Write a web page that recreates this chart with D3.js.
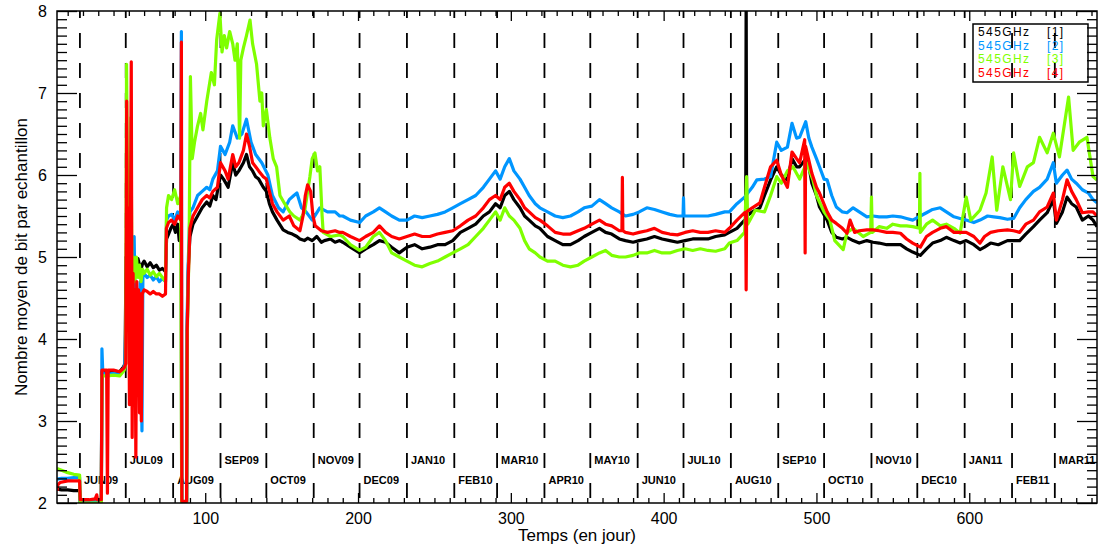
<!DOCTYPE html>
<html><head><meta charset="utf-8">
<script src="https://cdn.jsdelivr.net/npm/d3@7"></script>
<style>body{margin:0;background:#fff}svg{display:block}</style>
</head><body>
<svg id="c" width="1099" height="548"></svg>
<script>
// ---- data: [day, value] ----
const series1 = [[3,2.17],[6,2.16],[10,2.16],[14,2.15],[17.8,2.15],[18.2,2.01],[25,2.01],[32,2.01],[32.4,3.6],[36,3.6],[40,3.61],[44,3.6],[46.5,3.66],[47.5,3.7],[48.2,5.0],[49,4.6],[50,5.15],[51,4.85],[52,5.0],[53,4.9],[54,4.95],[55,4.88],[56,4.98],[57,4.9],[58,4.85],[59,4.92],[60,4.95],[62,4.88],[64,4.93],[66,4.87],[68,4.9],[70,4.84],[72,4.86],[74,4.82],[74.7,5.22],[76,5.28],[77.5,5.35],[79,5.4],[80.5,5.3],[82,5.4],[83,5.2],[84.3,5.35],[84.6,2.0],[87.8,2.0],[88.2,4.1],[89,4.9],[90,5.25],[92,5.4],[95,5.5],[98,5.6],[101,5.67],[103,5.62],[105,5.75],[107,5.7],[110,6.0],[112,5.95],[115,5.85],[118,6.15],[120,6.0],[122,6.05],[125,6.15],[127,6.25],[129,6.1],[131,6.05],[133,5.98],[135,5.95],[138,5.85],[140,5.8],[142,5.65],[144,5.55],[147,5.45],[151,5.33],[154,5.3],[157,5.28],[160,5.25],[162,5.22],[165,5.2],[167,5.23],[170,5.2],[173,5.25],[176,5.18],[178,5.2],[182,5.22],[185,5.18],[188,5.2],
[190,5.18],[195,5.12],[201,5.05],[205,5.1],[210,5.15],[214,5.2],[218,5.18],[222,5.12],[227,5.05],[232,5.12],[237,5.15],[242,5.1],[247,5.12],[252,5.15],[257,5.15],[262,5.2],[267,5.3],[272,5.35],[277,5.4],[282,5.5],[286,5.55],[290,5.65],[293,5.6],[296,5.75],[299,5.8],[302,5.7],[306,5.6],[309,5.5],[312,5.45],[316,5.38],[319,5.35],[324,5.25],[329,5.2],[334,5.15],[339,5.15],[344,5.2],[348,5.25],[353,5.3],[358,5.35],[362,5.3],[366,5.28],[371,5.22],[375,5.2],[380,5.18],[384,5.2],[389,5.22],[394,5.25],[399,5.22],[404,5.2],[409,5.18],[414,5.2],[419,5.22],[424,5.22],[429,5.22],[434,5.25],[440,5.27],[443,5.3],[448,5.35],[453,5.45],[453.7,5.45],[454,8.3],[454.3,5.5],[458,5.55],[463,5.6],[466,5.75],[470,5.94],[474,6.1],[477,6.0],[481,5.94],[484,6.2],[487,6.1],[489,6.1],[494,6.22],[497,5.9],[500,5.75],[502,5.61],[507,5.45],[510,5.3],[513,5.24],[517,5.22],[520,5.24],[524,5.2],[528,5.17],[533,5.2],[537,5.18],[541,5.17],[546,5.15],[550,5.15],[555,5.15],[559,5.1],[563,5.06],[568,5.02],[572,5.1],[576,5.17],[581,5.2],[585,5.24],[590,5.2],[594,5.17],[598,5.2],[603,5.15],[607,5.09],[610,5.12],[614,5.17],[619,5.15],[625,5.2],[629,5.2],[633,5.2],[637,5.28],[642,5.37],[646,5.45],[651,5.54],[655,5.7],[657,5.41],[661,5.55],[664,5.73],[667,5.65],[670,5.61],[674,5.45],[678,5.5],[681,5.45],[683.6,5.37]];

const series2 = [[3,2.29],[6,2.3],[10,2.3],[14,2.31],[17.8,2.31],[18.2,2.01],[25,2.01],[32,2.01],[32.4,3.88],[33,3.58],[36,3.57],[40,3.58],[44,3.57],[46.5,3.64],[47.5,3.7],[48.5,4.6],[49.5,5.0],[50.5,4.5],[51.5,4.9],[52.5,4.3],[53.5,5.25],[54.5,3.8],[55.5,4.6],[56.5,4.2],[57.5,4.7],[58.6,2.88],[59.2,4.75],[60,4.8],[62,4.75],[64,4.78],[66,4.72],[68,4.76],[70,4.7],[72,4.74],[74,4.7],[74.7,5.45],[76,5.5],[78,5.52],[80,5.45],[82,5.55],[84,5.5],[84.4,7.75],[84.7,2.0],[87.8,2.0],[88.2,4.3],[89,5.0],[90,5.55],[92,5.6],[95,5.75],[98,5.8],[101,5.85],[103,5.82],[105,5.95],[108,6.05],[110,6.35],[113,6.25],[116,6.4],[118,6.6],[121,6.45],[124,6.5],[127,6.68],[130,6.4],[133,6.25],[137,6.15],[141,6.0],[144,5.75],[148,5.6],[151,5.55],[155,5.7],[158,5.75],[160,5.78],[163,5.6],[166,5.55],[170,5.45],[175,5.6],[180,5.55],[185,5.55],[188,5.5],
[190,5.5],[195,5.45],[201,5.42],[205,5.5],[210,5.55],[214,5.6],[218,5.55],[222,5.5],[227,5.45],[232,5.45],[237,5.5],[242,5.48],[247,5.5],[252,5.52],[257,5.55],[262,5.6],[267,5.65],[272,5.7],[277,5.75],[282,5.85],[286,5.95],[290,6.05],[293,5.95],[296,6.1],[299,6.2],[302,6.05],[306,5.95],[309,5.85],[312,5.75],[316,5.65],[319,5.6],[324,5.55],[329,5.5],[334,5.48],[339,5.5],[344,5.55],[348,5.6],[353,5.62],[358,5.7],[362,5.65],[366,5.6],[371,5.55],[375,5.5],[380,5.52],[384,5.55],[389,5.6],[394,5.58],[399,5.55],[404,5.52],[409,5.5],[412.7,5.5],[413,5.72],[413.3,5.5],[419,5.5],[424,5.5],[429,5.5],[434,5.52],[440,5.55],[443,5.55],[448,5.65],[453,5.73],[458,5.85],[461,5.94],[466,5.95],[470,5.98],[474,6.4],[477,6.3],[481,6.34],[484,6.63],[487,6.45],[489,6.46],[493,6.65],[495,6.45],[497,6.34],[500,6.2],[502,6.1],[505,5.95],[507,5.94],[510,5.75],[513,5.61],[517,5.55],[520,5.54],[524,5.6],[528,5.55],[533,5.49],[537,5.5],[541,5.49],[546,5.49],[550,5.5],[555,5.49],[559,5.47],[563,5.45],[568,5.5],[572,5.54],[576,5.58],[581,5.6],[585,5.55],[590,5.49],[594,5.47],[598,5.45],[603,5.42],[607,5.45],[612,5.5],[616,5.49],[620,5.48],[625,5.46],[629,5.47],[633,5.6],[637,5.7],[642,5.8],[646,5.85],[651,5.95],[655,6.15],[657,5.9],[661,6.0],[664,6.06],[667,5.95],[670,5.9],[674,5.82],[678,5.78],[681,5.7],[683.6,5.66]];

const series3 = [[3,2.42],[6,2.4],[10,2.37],[14,2.35],[17.8,2.34],[18.2,2.0],[32,2.0],[32.4,3.55],[36,3.55],[40,3.56],[44,3.55],[47,3.62],[48,3.7],[48.5,7.35],[49,6.2],[49.6,4.8],[50.2,5.3],[50.8,4.6],[51.4,6.7],[52,4.8],[53,5.0],[54,4.7],[55,5.0],[56,4.75],[57,4.9],[58,4.7],[59,4.85],[60,4.8],[62,4.85],[64,4.78],[66,4.82],[68,4.76],[70,4.8],[72,4.75],[74,4.7],[74.7,5.6],[76,5.75],[78,5.7],[80,5.82],[82,5.65],[84,5.75],[84.6,2.0],[87.8,2.0],[88.2,4.0],[89.5,5.2],[90.3,7.2],[91.5,6.2],[93,6.4],[95,6.6],[97,6.75],[98.5,6.55],[101,6.9],[104,7.25],[106,7.1],[107.5,7.65],[109.6,7.97],[111,7.5],[112.5,7.7],[114,7.55],[116,7.75],[118,7.6],[119.5,7.4],[121,7.6],[122.5,6.45],[123.3,7.4],[125,7.55],[127,7.7],[129.3,7.89],[131,7.6],[133.6,7.35],[135.8,6.9],[137,7.0],[138,6.6],[140,6.8],[142.3,6.45],[144.5,6.2],[146.7,6.1],[148.9,5.75],[152,5.65],[155.4,5.55],[158,5.5],[162,5.45],[165,5.55],[168.5,5.98],[170,6.2],[171.8,6.27],[173.5,6.05],[175,6.1],[176.5,5.5],[177.2,5.3],[182,5.25],[188,5.27],
[190,5.25],[195,5.15],[201,5.08],[205,5.12],[210,5.25],[214,5.3],[218,5.2],[222,5.05],[227,5.0],[232,4.95],[237,4.9],[242,4.88],[247,4.92],[252,4.95],[257,5.0],[262,5.05],[267,5.1],[272,5.15],[277,5.25],[282,5.35],[286,5.45],[290,5.55],[293,5.45],[296,5.6],[299,5.5],[302,5.45],[306,5.35],[309,5.2],[312,5.1],[316,5.05],[319,5.0],[324,4.95],[329,4.95],[334,4.9],[339,4.88],[344,4.9],[348,4.95],[353,5.0],[358,5.05],[362,5.08],[366,5.02],[371,5.0],[375,5.0],[380,5.02],[384,5.05],[389,5.05],[394,5.08],[399,5.05],[404,5.05],[409,5.08],[414,5.1],[419,5.08],[424,5.1],[429,5.08],[434,5.07],[440,5.1],[443,5.17],[448,5.2],[453,5.3],[454.3,5.98],[455,5.4],[460,5.57],[466,5.55],[470,5.75],[474,5.98],[477,5.9],[481,6.05],[484.6,6.1],[489,5.95],[493.6,6.15],[497.7,5.94],[500,5.75],[505,5.55],[508.8,5.45],[512,5.2],[517.5,5.09],[520,5.3],[524,5.35],[530.6,5.25],[535.5,5.3],[536,5.73],[536.5,5.3],[541,5.37],[546,5.35],[550,5.4],[555,5.38],[559,5.38],[563,5.37],[567.4,5.35],[567.7,6.02],[568,5.3],[572,5.4],[576,5.45],[581,5.38],[585,5.4],[590,5.35],[594,5.29],[598,5.73],[601,5.45],[607,5.57],[611,5.78],[615,6.22],[618,5.57],[622,6.1],[627,5.7],[629,6.27],[633,5.86],[638,6.1],[642,6.15],[646,6.46],[651,6.27],[655,6.51],[659,6.22],[665,6.95],[668,6.3],[672,6.4],[677,6.46],[681,5.98],[683.6,5.94]];

const series4 = [[3,2.15],[3.5,2.22],[5,2.25],[10,2.27],[14,2.27],[17.8,2.27],[18.2,2.04],[24,2.04],[28,2.05],[29,2.1],[29.5,2.04],[32,2.04],[32.4,3.62],[35.5,3.62],[36,2.12],[36.5,3.62],[40,3.62],[44,3.6],[47,3.65],[48,3.7],[48.6,6.9],[49.2,4.5],[49.8,5.6],[50.4,3.2],[51,5.0],[51.6,7.38],[52.2,2.8],[52.8,4.8],[53.4,3.3],[54,4.6],[54.6,2.56],[55.2,4.7],[55.8,3.5],[56.4,4.6],[57,3.1],[57.6,4.55],[58.2,3.0],[58.8,4.55],[60,4.6],[62,4.58],[64,4.55],[66,4.58],[68,4.55],[70,4.55],[72,4.52],[74,4.55],[74.6,5.35],[76,5.42],[78,5.45],[80,5.4],[82,5.5],[84,5.45],[84.4,7.62],[84.7,2.02],[87.8,2.02],[88.2,4.1],[89,4.8],[90,5.35],[92,5.5],[95,5.6],[98,5.7],[101,5.75],[103,5.72],[105,5.8],[108,5.85],[110,6.15],[113,6.05],[115,5.95],[118,6.25],[120,6.1],[122,6.15],[125,6.3],[127,6.5],[129,6.35],[131,6.15],[133,6.1],[135,6.05],[138,5.98],[140,5.95],[142,5.8],[144,5.65],[147,5.55],[151,5.45],[155,5.5],[158,5.38],[162,5.32],[164,5.5],[165.5,5.75],[167,5.88],[169,5.8],[170.5,5.5],[172,5.38],[176,5.32],[180,5.3],[185,5.32],[188,5.3],
[190,5.3],[195,5.25],[201,5.2],[205,5.25],[210,5.3],[214,5.38],[218,5.3],[222,5.25],[227,5.22],[232,5.25],[237,5.28],[242,5.25],[247,5.25],[252,5.28],[257,5.3],[262,5.32],[267,5.38],[272,5.45],[277,5.5],[282,5.6],[286,5.7],[290,5.75],[293,5.7],[296,5.85],[299,5.9],[302,5.8],[306,5.7],[309,5.6],[312,5.55],[316,5.48],[319,5.45],[324,5.38],[329,5.3],[334,5.28],[339,5.28],[344,5.32],[348,5.35],[353,5.4],[358,5.45],[362,5.4],[366,5.38],[371,5.32],[372.7,5.32],[373,5.97],[373.3,5.32],[375,5.3],[380,5.28],[384,5.3],[389,5.32],[394,5.35],[399,5.3],[404,5.28],[409,5.27],[414,5.3],[419,5.32],[424,5.3],[429,5.3],[434,5.32],[440,5.3],[443,5.35],[448,5.45],[453,5.54],[453.7,5.54],[454,4.6],[454.3,5.55],[458,5.6],[463,5.66],[466,5.85],[470,6.1],[474,6.18],[477,6.0],[481,5.85],[484,6.28],[487,6.2],[489,6.15],[492.3,6.43],[492.6,5.05],[492.9,6.35],[497,6.02],[500,5.85],[502,5.78],[507,5.55],[510,5.45],[513,5.41],[517,5.35],[520,5.29],[522,5.45],[525,5.3],[528,5.32],[533,5.33],[537,5.33],[541,5.32],[546,5.3],[550,5.3],[555,5.29],[559,5.22],[563,5.17],[568,5.12],[572,5.25],[576,5.3],[581,5.35],[585,5.37],[590,5.3],[594,5.3],[598,5.3],[603,5.25],[607,5.17],[610,5.25],[614,5.3],[619,5.32],[625,5.33],[629,5.32],[633,5.3],[637,5.4],[642,5.45],[646,5.55],[651,5.61],[655,5.78],[657,5.45],[661,5.7],[664,5.94],[667,5.8],[670,5.7],[674,5.54],[678,5.55],[681,5.55],[683.6,5.5]];

const seriesNames = ["545GHz","545GHz","545GHz","545GHz"];
const seriesTags = ["[1]","[2]","[3]","[4]"];
const seriesColors = ["#000000","#0096ff","#7fff00","#ff0000"];

const monthLabels = ["JUN09","JUL09","AUG09","SEP09","OCT09","NOV09","DEC09","JAN10","FEB10","MAR10","APR10","MAY10","JUN10","JUL10","AUG10","SEP10","OCT10","NOV10","DEC10","JAN11","FEB11","MAR11"];
const monthDays = [18,48,79,110,140,171,201,232,263,291,322,352,383,413,444,475,505,536,566,597,628,656];

const xTickValues = [100,200,300,400,500,600];
const yTickValues = [2,3,4,5,6,7,8];
const xDomain = [3, 683.6];
const yDomain = [2, 8];
const xTitle = "Temps (en jour)";
const yTitle = "Nombre moyen de bit par echantillon";

// ---- layout ----
const L = 57, R = 1097, T = 11, B = 503;
const svg = d3.select("#c");
const x = d3.scaleLinear().domain(xDomain).range([L, R]);
const y = d3.scaleLinear().domain(yDomain).range([B, T]);
const font = "'Liberation Sans', Arial, sans-serif";

svg.append("defs").append("clipPath").attr("id","clip")
  .append("rect").attr("x",L).attr("y",T).attr("width",R-L).attr("height",B-T);

// month dashed lines
svg.append("g").selectAll("line").data(monthDays).join("line")
  .attr("x1",d=>x(d)).attr("x2",d=>x(d)).attr("y1",y(8)).attr("y2",y(2))
  .attr("stroke","#000").attr("stroke-width",1.8)
  .attr("stroke-dasharray","15,15").attr("stroke-dashoffset",8);

// month labels
svg.append("g").selectAll("text").data(monthLabels).join("text")
  .attr("x",(d,i)=>x(monthDays[i])+4)
  .attr("y",(d,i)=> i%2===0 ? 484 : 464)
  .attr("font-family",font).attr("font-size",11).attr("font-weight","bold")
  .text(d=>d);

// series
const line = d3.line().x(d=>x(d[0])).y(d=>y(d[1]));
const gData = svg.append("g").attr("clip-path","url(#clip)");
[series1,series2,series3,series4].forEach((s,i)=>{
  gData.append("path").datum(s).attr("d",line)
    .attr("fill","none").attr("stroke",seriesColors[i])
    .attr("stroke-width",3.2).attr("stroke-linejoin","round");
});

// axes (box with inward ticks)
const minorX = d3.range(10, 684, 10).filter(v=>v%100!==0);
const minorY = d3.range(21, 80, 1).map(v=>v/10).filter(v=>Math.abs(v-Math.round(v))>1e-6);
function ax(axisFn, scale, transform, major, minor, majLen, minLen, labels){
  const g = svg.append("g").attr("transform",transform);
  g.call(axisFn(scale).tickValues(minor).tickSize(-minLen).tickFormat(""));
  const g2 = svg.append("g").attr("transform",transform);
  g2.call(axisFn(scale).tickValues(major).tickSize(-majLen).tickPadding(labels?10:0).tickFormat(labels?d3.format("d"):""));
  [g,g2].forEach(gg=>{
    gg.selectAll(".domain").remove();
    gg.selectAll("line").attr("stroke","#000").attr("stroke-width",1.3);
    gg.selectAll("text").attr("font-family",font).attr("font-size",16).attr("fill","#000");
  });
  return g2;
}
ax(d3.axisBottom, x, `translate(0,${B})`, xTickValues, minorX, 10, 5, true);
ax(d3.axisTop, x, `translate(0,${T})`, xTickValues, minorX, 10, 5, false);
ax(d3.axisLeft, y, `translate(${L},0)`, yTickValues, minorY, 20, 10, true);
ax(d3.axisRight, y, `translate(${R},0)`, yTickValues, minorY, 20, 10, false);

svg.append("rect").attr("x",L).attr("y",T).attr("width",R-L).attr("height",B-T)
  .attr("fill","none").attr("stroke","#000").attr("stroke-width",1.5);

// titles
svg.append("text").attr("x",(L+R)/2).attr("y",541).attr("text-anchor","middle")
  .attr("font-family",font).attr("font-size",17).text(xTitle);
svg.append("text").attr("transform",`translate(27,${(T+B)/2}) rotate(-90)`)
  .attr("text-anchor","middle").attr("font-family",font).attr("font-size",17).text(yTitle);

// legend
const lg = svg.append("g");
lg.append("rect").attr("x",973).attr("y",24).attr("width",115).attr("height",58)
  .attr("fill","none").attr("stroke","#000").attr("stroke-width",1.5);
seriesNames.forEach((n,i)=>{
  lg.append("text").attr("x",978).attr("y",36+i*13.6).attr("font-family",font)
    .attr("font-size",12).attr("letter-spacing",1.4).attr("fill",seriesColors[i]).text(n);
  lg.append("text").attr("x",1047).attr("y",36+i*13.6).attr("font-family",font)
    .attr("font-size",12).attr("letter-spacing",1.4).attr("fill",seriesColors[i]).text(seriesTags[i]);
});
</script>
</body></html>
